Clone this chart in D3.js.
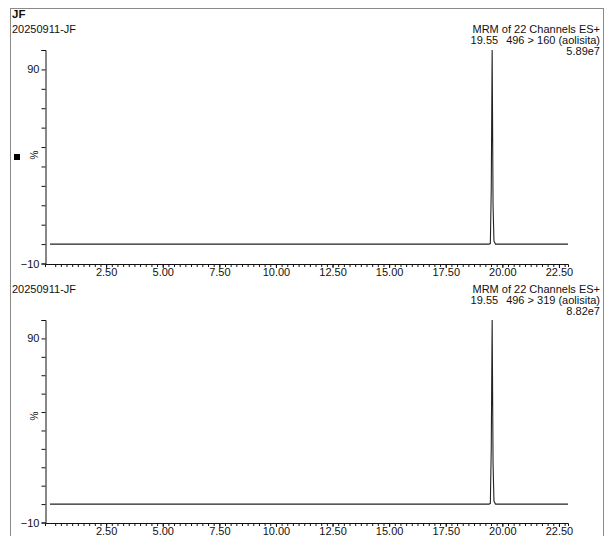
<!DOCTYPE html>
<html>
<head>
<meta charset="utf-8">
<script src="https://cdn.jsdelivr.net/npm/d3@7/dist/d3.min.js"></script>
<style>
  html, body { margin: 0; padding: 0; background: #fff; }
  svg { display: block; font-family: "Liberation Sans", Arial, sans-serif; }
</style>
</head>
<body>
<svg id="chart" width="606" height="536"></svg>
<script>
// Sample header
const sampleCode = "JF";
const sampleName = "20250911-JF";

// Channel descriptions, one per trace
const channelTitles = ["MRM of 22 Channels ES+", "MRM of 22 Channels ES+"];
const transitions = ["496 > 160 (aolisita)", "496 > 319 (aolisita)"];
const peakTimes = ["19.55", "19.55"];
const peakHeights = ["5.89e7", "8.82e7"];

// Trace 1: retention time (min) vs relative intensity (%)
const rt1  = [0.02, 19.40, 19.47, 19.51, 19.55, 19.59, 19.63, 19.70, 22.90];
const pct1 = [0,    0,     0.3,   28,    100,   20,    1.5,   0,     0];

// Trace 2
const rt2  = [0.02, 19.40, 19.47, 19.51, 19.55, 19.59, 19.63, 19.70, 22.90];
const pct2 = [0,    0,     0.3,   30,    100,   22,    1.5,   0,     0];

// Axis tick labels
const xLabelTicks = [2.5, 5.0, 7.5, 10.0, 12.5, 15.0, 17.5, 20.0, 22.5];
const yLabelTicks = [90, -10];
const yTicks = [-10, 0, 10, 20, 30, 40, 50, 60, 70, 80, 90, 100];

const traces = [
  { rt: rt1, pct: pct1 },
  { rt: rt2, pct: pct2 }
];

// per-panel geometry: text row baseline, plot top, plot bottom
const panels = [
  { text: 33, top: 50, bottom: 263.5, pctY: 155 },
  { text: 293, top: 320, bottom: 522.5, pctY: 416 }
];

const svg = d3.select("#chart");

// outer frame
svg.append("rect")
  .attr("x", 10.5).attr("y", 8.5)
  .attr("width", 593).attr("height", 540)
  .attr("fill", "none").attr("stroke", "#8a8a8a").attr("stroke-width", 1);

svg.append("text")
  .attr("x", 12).attr("y", 18)
  .attr("font-size", 11.5).attr("font-weight", "bold").attr("fill", "#111")
  .text(sampleCode);

const left = 45, right = 568;
const x = d3.scaleLinear().domain([-0.2, 22.9]).range([left, right]);

const minorX = d3.range(0.25, 22.9, 0.25);

function drawPanel(i) {
  const tr = traces[i];
  const p = panels[i];
  const y = d3.scaleLinear().domain([-10, 100]).range([p.bottom, p.top]);
  const g = svg.append("g");

  // titles
  g.append("text").attr("x", 12).attr("y", p.text)
    .attr("font-size", 11).attr("fill", "#111").text(sampleName);
  const rx = 600;
  g.append("text").attr("x", rx).attr("y", p.text)
    .attr("text-anchor", "end").attr("font-size", 11).attr("fill", "#111")
    .text(channelTitles[i]);
  g.append("text").attr("x", rx).attr("y", p.text + 11)
    .attr("text-anchor", "end").attr("font-size", 11).attr("fill", "#111")
    .text(transitions[i]);
  g.append("text").attr("x", rx).attr("y", p.text + 22)
    .attr("text-anchor", "end").attr("font-size", 11).attr("fill", "#111")
    .text(peakHeights[i]);

  // y axis
  const yAxis = d3.axisLeft(y).tickValues(yTicks).tickSize(4).tickPadding(2)
    .tickFormat(d => yLabelTicks.includes(d) ? d3.format("d")(d) : "");
  const ya = g.append("g").attr("transform", `translate(${left + 0.5},0)`).call(yAxis);
  ya.select(".domain").attr("stroke", "#111");
  ya.selectAll(".tick line").attr("stroke", "#111");
  ya.selectAll(".tick text").attr("font-size", 11).attr("fill", "#111")
    .attr("font-family", "Liberation Sans, Arial, sans-serif");

  // x axis: minor ticks then labelled ticks
  const xa = g.append("g").attr("transform", `translate(0,${p.bottom + 0.5})`);
  xa.call(d3.axisBottom(x).tickValues(minorX).tickSize(3).tickFormat(""));
  xa.select(".domain").attr("stroke", "#111");
  xa.selectAll(".tick line").attr("stroke", "#111");
  const xa2 = g.append("g").attr("transform", `translate(0,${p.bottom + 0.5})`);
  xa2.call(d3.axisBottom(x).tickValues(xLabelTicks).tickSize(4).tickPadding(0)
    .tickFormat(d3.format(".2f")));
  xa2.select(".domain").remove();
  xa2.selectAll(".tick line").attr("stroke", "#111");
  xa2.selectAll(".tick text").attr("font-size", 11).attr("fill", "#111")
    .attr("font-family", "Liberation Sans, Arial, sans-serif");

  // % label
  g.append("text")
    .attr("transform", `translate(38,${p.pctY}) rotate(-90)`)
    .attr("text-anchor", "middle").attr("font-size", 10).attr("fill", "#111")
    .text("%");

  // trace
  const line = d3.line().x((d, k) => x(tr.rt[k])).y(d => y(d));
  g.append("path").datum(tr.pct)
    .attr("d", line).attr("fill", "none")
    .attr("stroke", "#222").attr("stroke-width", 1.1);

  // peak annotation
  const top = d3.max(tr.pct);
  const k = tr.pct.indexOf(top);
  g.append("text").attr("x", x(tr.rt[k]) + 6).attr("y", p.text + 11)
    .attr("text-anchor", "end").attr("font-size", 11).attr("fill", "#111")
    .text(peakTimes[i]);
}

drawPanel(0);
drawPanel(1);

// small marker at the left edge of the first panel
svg.append("rect").attr("x", 14).attr("y", 154).attr("width", 6).attr("height", 6).attr("fill", "#000");
</script>
</body>
</html>
